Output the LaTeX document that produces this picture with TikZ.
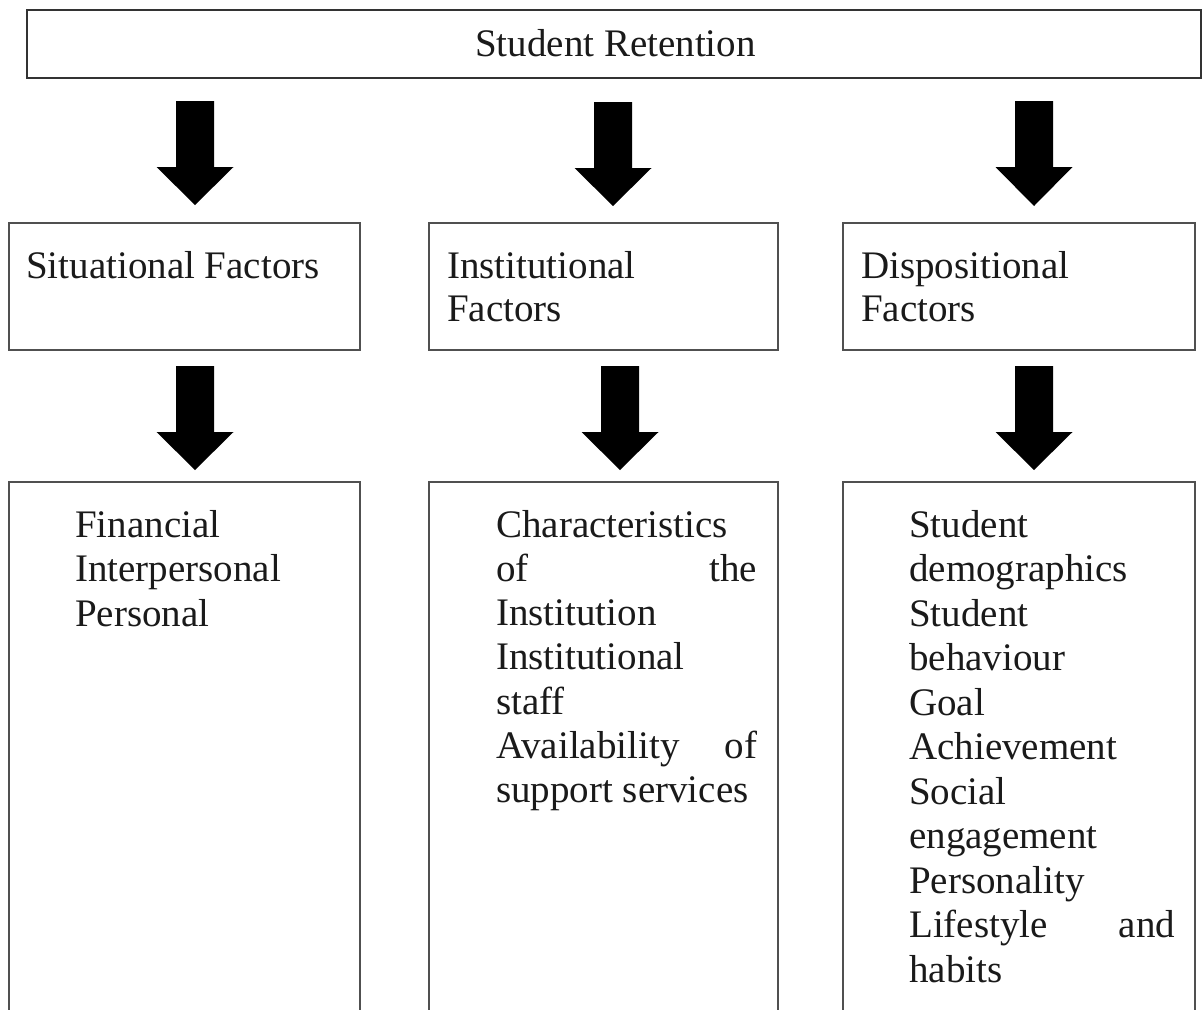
\documentclass[tikz,border=0pt]{standalone}
\usepackage{fontspec}
\setmainfont{Liberation Serif}
\definecolor{boxgray}{HTML}{505050}
\definecolor{ink}{HTML}{1A1A1A}
\newcommand\blockarrow[4]{%
  \fill[black] (#1-19,#2) -- (#1+19,#2) -- (#1+19,#3) -- (#1+38.5,#3) -- (#1,#4)
    -- (#1-38.5,#3) -- (#1-19,#3) -- cycle;}
\begin{document}
\begin{tikzpicture}[x=1pt,y=-1pt,
  frame/.style={draw=boxgray, line width=1.6pt, inner sep=0pt, anchor=north west, rectangle},
  txt/.style={anchor=base west, inner sep=0pt, font=\fontsize{39}{44.5}\selectfont, text=ink}]
\useasboundingbox (0,0) rectangle (1203,1010);
\clip (0,0) rectangle (1203,1010);
\fill[white] (0,0) rectangle (1203,1010);
% boxes
\node[frame, line width=2pt, draw=black!80, minimum width=1174pt, minimum height=68pt] (top) at (26,9) {};
\node[frame, minimum width=351pt, minimum height=127pt] (sit) at (8,222) {};
\node[frame, minimum width=349pt, minimum height=127pt] (ins) at (428,222) {};
\node[frame, minimum width=352pt, minimum height=127pt] (dis) at (842,222) {};
\node[frame, minimum width=351pt, minimum height=560pt] (sitL) at (8,481) {};
\node[frame, minimum width=349pt, minimum height=560pt] (insL) at (428,481) {};
\node[frame, minimum width=352pt, minimum height=560pt] (disL) at (842,481) {};
% arrows
\blockarrow{195}{101}{167}{205}
\blockarrow{613}{102}{168}{206}
\blockarrow{1034}{101}{167}{206}
\blockarrow{195}{366}{432}{470}
\blockarrow{620}{366}{432}{470}
\blockarrow{1034}{366}{432}{470}
% texts
\node[txt, anchor=base] (title) at (615.5,56) {Student Retention};
\node[txt] (sitT) at (26,278) {Situational Factors};
\node[txt] (insT1) at (447,278) {Institutional};
\node[txt] (insT2) at (447,321) {Factors};
\node[txt] (disT1) at (861,278) {Dispositional};
\node[txt] (disT2) at (861,321) {Factors};
% column 1 list
\foreach \t [count=\i from 0] in {Financial, Interpersonal, Personal}
  \node[txt] (a\i) at (75,537+44.5*\i) {\t};
% column 2 list
\foreach \t [count=\i from 0] in {Characteristics, {\makebox[261pt][s]{of the}}, Institution, Institutional, staff, {\makebox[261pt][s]{Availability of}}, support services}
  \node[txt] (b\i) at (496,537+44.3*\i) {\t};
% column 3 list
\foreach \t [count=\i from 0] in {Student, demographics, Student, behaviour, Goal, Achievement, Social, engagement, Personality, {\makebox[266pt][s]{Lifestyle and}}, habits}
  \node[txt] (c\i) at (909,537+44.5*\i) {\t};
\end{tikzpicture}
\end{document}
